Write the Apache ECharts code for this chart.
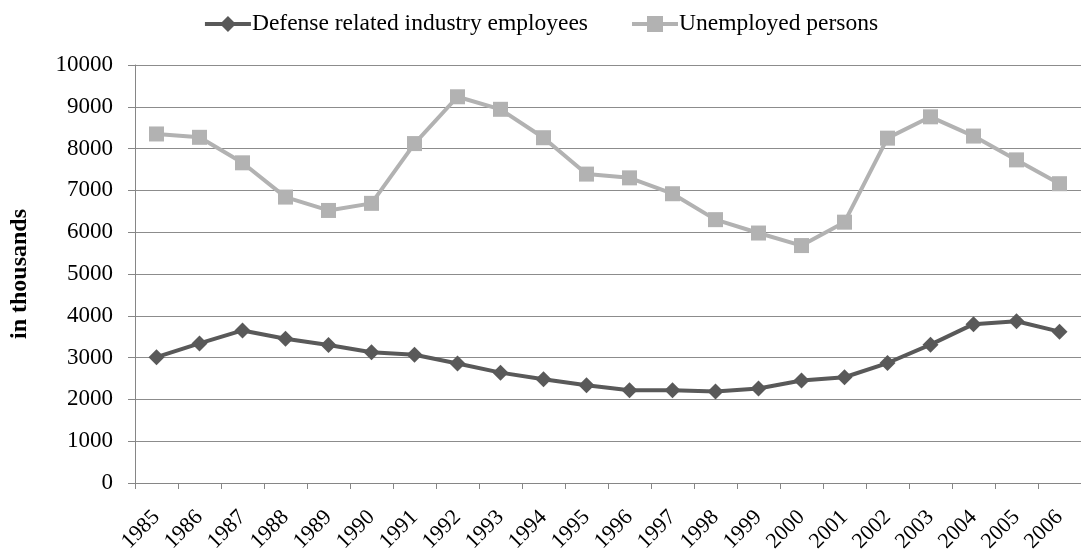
<!DOCTYPE html>
<html>
<head>
<meta charset="utf-8">
<script src="https://cdn.jsdelivr.net/npm/echarts@6/dist/echarts.min.js"></script>
<style>
  html, body { margin: 0; padding: 0; background: #fff; }
  #chart { width: 1081px; height: 555px; }
</style>
</head>
<body>
<div id="chart"></div>
<script>
// years on the x axis
var years = ['1985', '1986', '1987', '1988', '1989', '1990', '1991', '1992', '1993', '1994', '1995',
  '1996', '1997', '1998', '1999', '2000', '2001', '2002', '2003', '2004', '2005', '2006'];

// in thousands
var defenseEmployees = [3010, 3340, 3650, 3450, 3300, 3130, 3070, 2860, 2640, 2480, 2340,
  2220, 2220, 2190, 2260, 2450, 2530, 2870, 3310, 3800, 3870, 3620];
var unemployed = [8350, 8270, 7660, 6840, 6520, 6690, 8120, 9240, 8940, 8260, 7390,
  7300, 6920, 6300, 5980, 5680, 6240, 8250, 8760, 8300, 7730, 7160];

var FONT = '"Liberation Serif", "Times New Roman", serif';
var DARK = '#595959';
var LIGHT = '#b2b2b2';

var myChart = echarts.init(document.getElementById('chart'));
var option = {
  animation: false,
  textStyle: { fontFamily: FONT, color: '#000' },
  legend: {
    top: 7,
    left: 'center',
    itemWidth: 46,
    itemHeight: 20,
    itemGap: 42,
    textStyle: { fontFamily: FONT, fontSize: 23.5, color: '#000', padding: [0, 0, 0, -4] },
    data: [
      { name: 'Defense related industry employees', lineStyle: { width: 4, color: DARK }, itemStyle: { color: DARK } },
      { name: 'Unemployed persons', lineStyle: { width: 4, color: LIGHT }, itemStyle: { color: LIGHT } }
    ]
  },
  grid: {
    left: 135,
    right: -7,
    top: 65,
    bottom: 71
  },
  xAxis: {
    type: 'category',
    data: years,
    boundaryGap: true,
    axisLine: { lineStyle: { color: '#868686', width: 1 } },
    axisTick: { show: true, length: 6, lineStyle: { color: '#868686' } },
    axisLabel: {
      rotate: 45,
      interval: 0,
      margin: 31,
      fontFamily: FONT,
      fontSize: 22,
      color: '#000'
    },
    splitLine: { show: false }
  },
  yAxis: {
    type: 'value',
    min: 0,
    max: 10000,
    interval: 1000,
    name: 'in thousands',
    nameLocation: 'middle',
    nameGap: 103,
    nameRotate: 90,
    nameTextStyle: { fontFamily: FONT, fontSize: 24, fontWeight: 'bold', color: '#000' },
    axisLine: { show: true, lineStyle: { color: '#868686', width: 1 } },
    axisTick: { show: true, length: 7, lineStyle: { color: '#868686' } },
    axisLabel: {
      margin: 22,
      fontFamily: FONT,
      fontSize: 23,
      color: '#000',
      formatter: function (v) { return String(v); }
    },
    splitLine: { show: true, lineStyle: { color: '#8c8c8c', width: 1 } }
  },
  series: [
    {
      name: 'Defense related industry employees',
      type: 'line',
      data: defenseEmployees,
      symbol: 'diamond',
      symbolSize: 16,
      lineStyle: { color: DARK, width: 4 },
      itemStyle: { color: DARK }
    },
    {
      name: 'Unemployed persons',
      type: 'line',
      data: unemployed,
      symbol: 'rect',
      symbolSize: 15,
      lineStyle: { color: LIGHT, width: 4 },
      itemStyle: { color: LIGHT }
    }
  ]
};
myChart.setOption(option);
</script>
</body>
</html>
